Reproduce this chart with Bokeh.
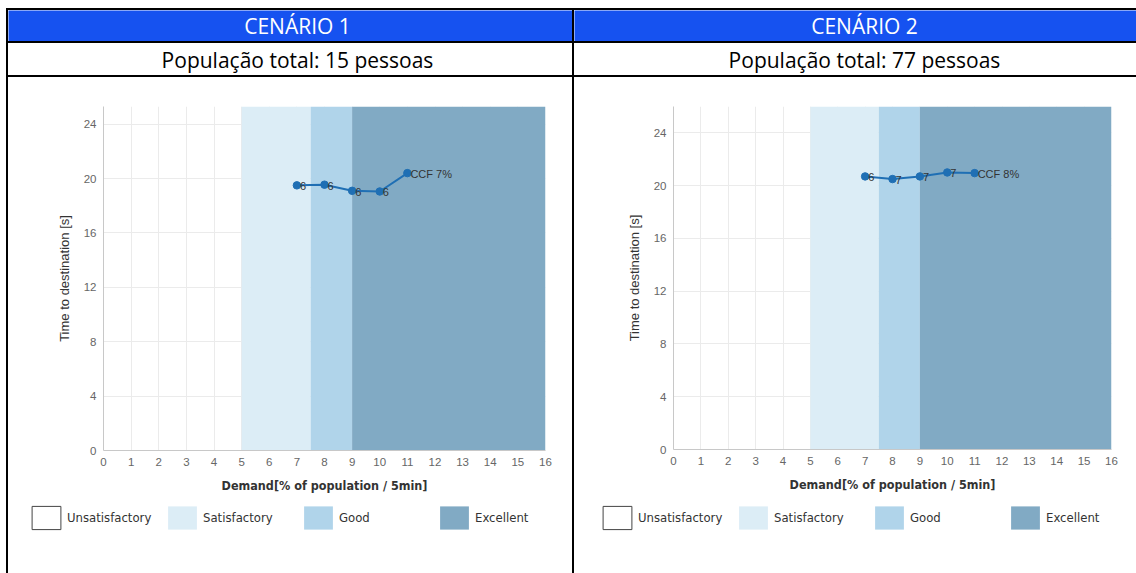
from bokeh.plotting import figure
from bokeh.layouts import column, row
from bokeh.models import Range1d, FixedTicker, Legend, LegendItem, Spacer
from bokeh.core.properties import value
from bokeh.embed import file_html
from bokeh.resources import INLINE

# ---------------- data ----------------
scenario_titles = ["CENÁRIO 1", "CENÁRIO 2"]
population_totals = [15, 77]

demand_1 = [7, 8, 9, 10, 11]
time_1 = [19.5, 19.55, 19.1, 19.05, 20.4]
labels_1 = ["6", "6", "6", "6", "CCF 7%"]

demand_2 = [7, 8, 9, 10, 11]
time_2 = [20.7, 20.5, 20.7, 21.0, 20.95]
labels_2 = ["6", "7", "7", "7", "CCF 8%"]

y_max = [25.3, 26]

band_names = ["Unsatisfactory", "Satisfactory", "Good", "Excellent"]
band_start = [0, 5, 7.5, 9]
band_end = [5, 7.5, 9, 16]
band_colors = ["#FFFFFF", "#DCEDF6", "#B0D4EA", "#81AAC4"]

x_ticks = list(range(0, 17))
y_ticks = [0, 4, 8, 12, 16, 20, 24]
x_title = "Demand[% of population / 5min]"
y_title = "Time to destination [s]"

# ---------------- styles ----------------
BLUE = "#1652F0"
LINE = "#1F6FB4"
FONT = "Liberation Sans"
NARROW = "DejaVu Sans Condensed, Roboto"
HFONT = "Open Sans"


def bar(w, h):
    return Spacer(width=w, height=h, styles={"background-color": "black"})


def cell(w, h, fill):
    p = figure(width=w, height=h, min_border=0, toolbar_location=None,
               x_range=Range1d(0, 1), y_range=Range1d(0, 1),
               x_axis_location=None, y_axis_location=None,
               output_backend="svg", outline_line_color=None,
               background_fill_color=fill, border_fill_color=fill,
               frame_align=False)
    p.grid.visible = False
    return p


def text_cell(w, h, fill, txt, color, size, dx):
    p = cell(w, h, fill)
    p.text(x=[0.5], y=[0.5], text=[txt], x_offset=dx, text_align="center",
           text_baseline="middle", text_color=color, text_font=value(HFONT),
           text_font_size=size)
    return p


def chart(w, h, mleft, mright, mbottom, xs, ys, labels, ymax):
    p = figure(width=w, height=h, toolbar_location=None, output_backend="svg",
               x_range=Range1d(0, 16), y_range=Range1d(0, ymax),
               min_border_left=mleft, min_border_right=mright,
               min_border_top=29, min_border_bottom=mbottom,
               outline_line_color=None, background_fill_color="white",
               border_fill_color="white", frame_align=False)
    p.xaxis.ticker = FixedTicker(ticks=x_ticks)
    p.yaxis.ticker = FixedTicker(ticks=y_ticks)
    p.grid.grid_line_color = "#EBEBEB"
    for ax in (p.xaxis, p.yaxis):
        ax.axis_line_color = "#C8C8C8"
        ax.major_tick_line_color = None
        ax.minor_tick_line_color = None
        ax.major_tick_out = 0
        ax.major_tick_in = 0
        ax.major_label_standoff = 7
        ax.major_label_text_font = FONT
        ax.major_label_text_font_size = "11.5px"
        ax.major_label_text_color = "#666666"
        ax.axis_label_standoff = 9
        ax.axis_label_text_color = "#333333"
    p.xaxis.axis_label = x_title
    p.xaxis.axis_label_text_font = NARROW
    p.xaxis.axis_label_text_font_size = "12.5px"
    p.xaxis.axis_label_text_font_style = "bold"
    p.yaxis.axis_label = y_title
    p.yaxis.axis_label_text_font = FONT
    p.yaxis.axis_label_text_font_size = "13px"
    p.yaxis.axis_label_text_font_style = "normal"

    # quality bands
    for s, e, c in zip(band_start, band_end, band_colors):
        if c.upper() == "#FFFFFF":
            continue
        p.quad(left=[s], right=[e], bottom=[0], top=[ymax], fill_color=c, line_color=None)

    # series
    p.line(xs, ys, line_color=LINE, line_width=2)
    p.scatter(xs, ys, size=7.5, fill_color=LINE, line_color=LINE)
    p.text(xs, ys, text=labels, x_offset=3, y_offset=1, text_align="left",
           text_baseline="middle", text_font=value(FONT), text_font_size="11px",
           text_color="#333333")
    return p


def legend_cell(w, h, dx, dy):
    p = cell(w, h, "white")
    items = []
    for name, s, e, c in zip(band_names, band_start, band_end, band_colors):
        # swatch renderer kept below the visible (0..1) y-range: only its style feeds the legend
        r = p.quad(left=[s], right=[e], top=[-1], bottom=[-2], fill_color=c,
                   line_color="#444444" if c.upper() == "#FFFFFF" else None)
        items.append(LegendItem(label=name, renderers=[r]))
    lg = Legend(items=items, orientation="horizontal", location=(dx, dy),
                glyph_width=36, glyph_height=29, label_standoff=3, label_width=97,
                spacing=0, padding=0, margin=0, border_line_color=None,
                background_fill_alpha=0, label_text_font=NARROW,
                label_text_font_size="13px", label_text_color="#333333")
    p.add_layout(lg)
    return p


LM = 6
W1, W2 = 564, 562
TOTAL = 2 + W1 + 2 + W2
HCH = 423   # chart figure height (y 77..500)
HLG = 73    # legend strip height (y 500..573)

header = row(Spacer(width=LM, height=31), bar(2, 31),
             text_cell(W1, 31, BLUE, scenario_titles[0], "white", "21px", 7),
             bar(2, 31),
             text_cell(W2, 31, BLUE, scenario_titles[1], "white", "21px", 9))
sub = row(Spacer(width=LM, height=32), bar(2, 32),
          text_cell(W1, 32, "white", f"População total: {population_totals[0]} pessoas", "black", "21px", 7),
          bar(2, 32),
          text_cell(W2, 32, "white", f"População total: {population_totals[1]} pessoas", "black", "21px", 9))

c1 = chart(W1, HCH, 95, 27, 50, demand_1, time_1, labels_1, y_max[0])
c2 = chart(W2, HCH, 99, 25, 51, demand_2, time_2, labels_2, y_max[1])
l1 = legend_cell(W1, HLG, 20, 41)
l2 = legend_cell(W2, HLG, 25, 41)
charts = row(Spacer(width=LM, height=HCH + HLG), bar(2, HCH + HLG),
             column(c1, l1), bar(2, HCH + HLG), column(c2, l2))

layout = column(Spacer(width=LM + TOTAL, height=8),
                row(Spacer(width=LM, height=2), bar(TOTAL, 2)),
                header,
                row(Spacer(width=LM, height=2), bar(TOTAL, 2)),
                sub,
                row(Spacer(width=LM, height=2), bar(TOTAL, 2)),
                charts)

open("out.html", "w").write(file_html(layout, INLINE))
